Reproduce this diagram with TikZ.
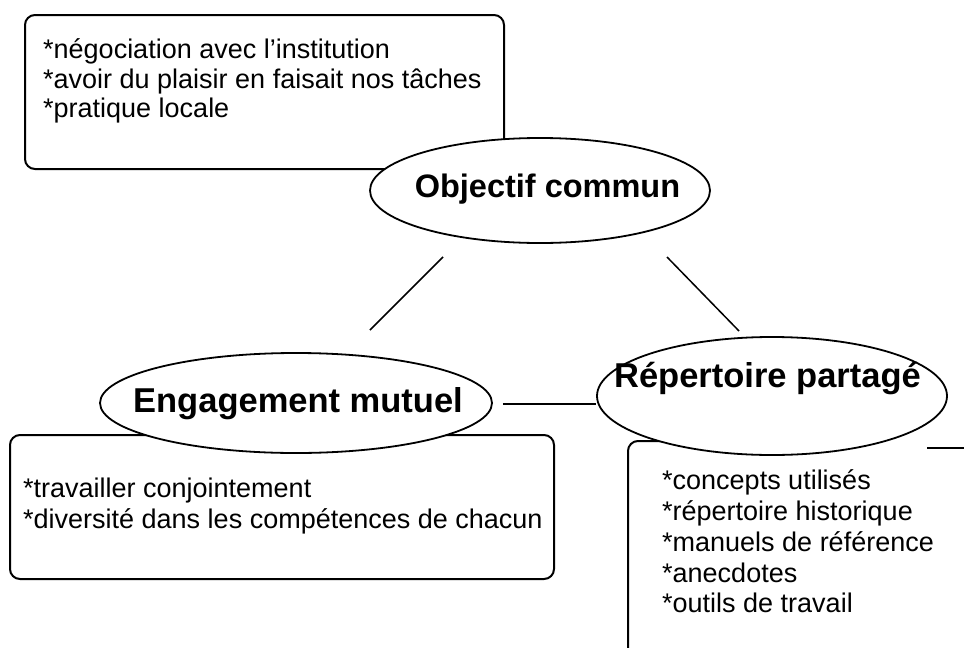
\documentclass[tikz,border=0pt]{standalone}
\usepackage{fontspec}
\setmainfont{Liberation Sans}
\usetikzlibrary{shapes.geometric}
\begin{document}
\begin{tikzpicture}[x=1pt,y=-1pt,
  boxst/.style={draw,line width=2pt,rounded corners=10pt,inner sep=0pt},
  ell/.style={ellipse,draw,line width=1.8pt,fill=white,inner sep=0pt},
  elltxt/.style={anchor=base,inner sep=0pt,font=\fontsize{34.5}{34.5}\selectfont\bfseries},
  conn/.style={line width=1.5pt},
  itemtxt/.style={anchor=base west,inner sep=0pt,font=\fontsize{27}{30}\selectfont}
]
\useasboundingbox (0,0) rectangle (964,648);
% boxes
\node[boxst,minimum width=479pt,minimum height=154pt,anchor=north west] (b1) at (24,14) {};
\node[boxst,minimum width=544pt,minimum height=144pt,anchor=north west] (b2) at (9,434) {};
\draw[line width=2pt,rounded corners=10pt] (628,680) -- (628,441) -- (662,441);
\draw[line width=2pt] (927,448) -- (970,448);
% box texts
\node[itemtxt] (t11) at (43,58)  {*négociation avec l'institution};
\node[itemtxt] (t12) at (43,88)  {*avoir du plaisir en faisait nos tâches};
\node[itemtxt] (t13) at (43,117) {*pratique locale};
\node[itemtxt] (t21) at (23,497) {*travailler conjointement};
\node[itemtxt] (t22) at (23,528) {*diversité dans les compétences de chacun};
\node[itemtxt] (t31) at (662,489) {*concepts utilisés};
\node[itemtxt] (t32) at (662,520) {*répertoire historique};
\node[itemtxt] (t33) at (662,551) {*manuels de référence};
\node[itemtxt] (t34) at (662,582) {*anecdotes};
\node[itemtxt] (t35) at (662,612) {*outils de travail};
% ellipses
\node[ell,minimum width=340pt,minimum height=105pt] (obj) at (540,190.5) {};
\node[ell,minimum width=392pt,minimum height=100pt] (eng) at (296,403) {};
\node[ell,minimum width=350pt,minimum height=118pt] (rep) at (772,396) {};
\node[elltxt,font=\fontsize{32.5}{32.5}\selectfont\bfseries] (objt) at (547.5,197) {Objectif commun};
\node[elltxt] (engt) at (298,412) {Engagement mutuel};
\node[elltxt] (rept) at (767.5,387) {Répertoire partagé};
% connectors
\coordinate (c1) at (443,257);
\coordinate (c2) at (370,330);
\coordinate (c3) at (667,257);
\coordinate (c4) at (739,331);
\draw[conn] (c1) -- (c2);
\draw[conn] (c3) -- (c4);
\draw[conn] ([xshift=10pt,yshift=-1pt]eng.east) -- (rep.west |- 0,404);
\end{tikzpicture}
\end{document}
